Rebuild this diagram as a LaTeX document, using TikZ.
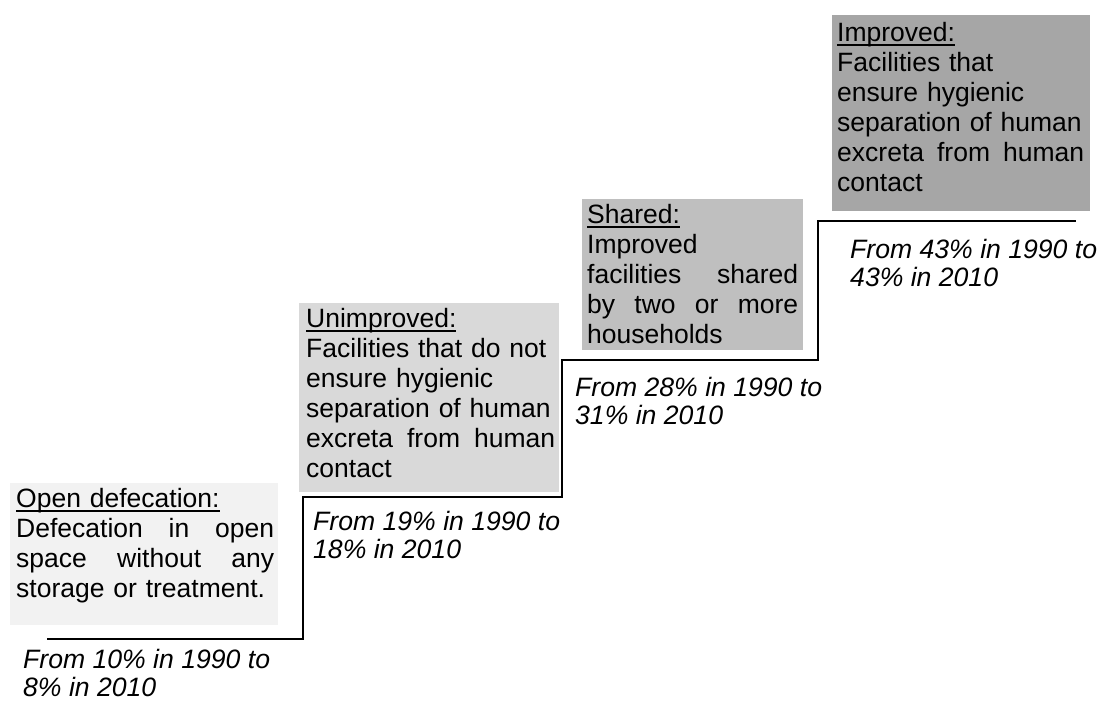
\documentclass[tikz,border=0pt]{standalone}
\usepackage{fontspec}
\setmainfont{Liberation Sans}
\usetikzlibrary{positioning}
\definecolor{odgray}{HTML}{F2F2F2}
\definecolor{ungray}{HTML}{D9D9D9}
\definecolor{shgray}{HTML}{BFBFBF}
\definecolor{imgray}{HTML}{A6A6A6}
\newcommand{\ulhead}[1]{\setbox0\hbox{#1}\rlap{\rule[-5pt]{\wd0}{1.8pt}}\box0}
\newcommand{\jline}[2]{\leavevmode\hbox to #1{\spaceskip=.25em plus 1fil\relax #2}}
\newcommand{\topstrut}{\rule{0pt}{20pt}}
\tikzset{
  stepbox/.style= {anchor=north west, inner sep=0, draw=none},
  steptext/.style= {anchor=north west, inner sep=0, align=left, text width=260pt, font=\fontsize{26.5}{30}\selectfont},
  share/.style= {anchor=north west, inner sep=0, align=left, font=\fontsize{26.6}{28.5}\selectfont\itshape},
  stair/.style= {line width=2pt},
}

\begin{document}
\begin{tikzpicture}[x=1pt, y=-1pt]
  \useasboundingbox (0,0) rectangle (1100,702) ;

  \node [stepbox, fill=odgray, minimum width=268pt, minimum height=142pt] (od) at (10,483) {} ;
  \node [stepbox, fill=ungray, minimum width=260pt, minimum height=189pt] (un) at (299,303) {} ;
  \node [stepbox, fill=shgray, minimum width=221pt, minimum height=151pt] (sh) at (582,199) {} ;
  \node [stepbox, fill=imgray, minimum width=258pt, minimum height=196pt] (im) at (832,15) {} ;

  \node [steptext] (od text) at (16,487)
    {\topstrut\ulhead{Open defecation:}\\ \jline{258pt}{Defecation in open}\\ \jline{258pt}{space without any}\\ storage or treatment.} ;
  \node [steptext] (un text) at (306,307)
    {\topstrut\ulhead{Unimproved:}\\ Facilities that do not\\ ensure hygienic\\ separation of human\\ \jline{249pt}{excreta from human}\\ contact} ;
  \node [steptext] (sh text) at (587,203)
    {\topstrut\ulhead{Shared:}\\ Improved\\ \jline{211pt}{facilities shared}\\ \jline{211pt}{by two or more}\\ households} ;
  \node [steptext] (im text) at (837,21)
    {\topstrut\ulhead{Improved:}\\ Facilities that\\ ensure hygienic\\ separation of human\\ \jline{247pt}{excreta from human}\\ contact} ;

  \node [share] (od share) at (23,648) {\topstrut From 10\% in 1990 to\\ 8\% in 2010} ;
  \node [share] (un share) at (313,510) {\topstrut From 19\% in 1990 to\\ 18\% in 2010} ;
  \node [share] (sh share) at (575,376) {\topstrut From 28\% in 1990 to\\ 31\% in 2010} ;
  \node [share] (im share) at (850,238) {\topstrut From 43\% in 1990 to\\ 43\% in 2010} ;

  \draw [stair] (47,639) -| (303,497) -| (562,360) -| (818,221) -- (1076,221) ;
\end{tikzpicture}
\end{document}
